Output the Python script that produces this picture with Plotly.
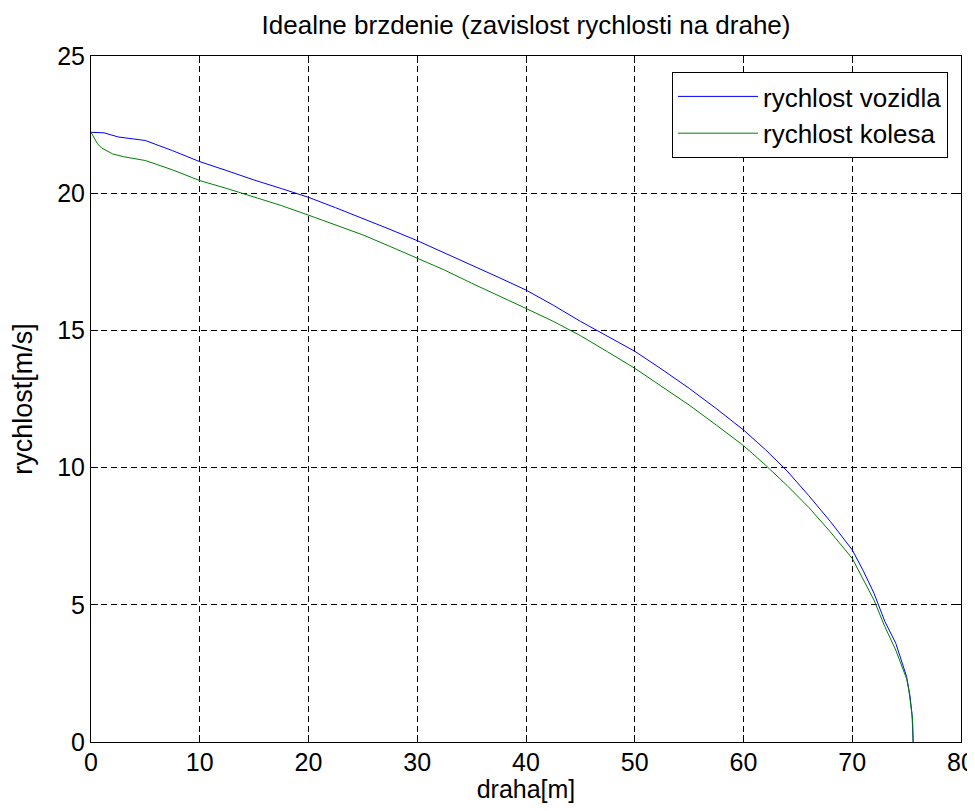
import plotly.graph_objects as go

# distance [m] and speed [m/s]
draha_vozidlo = [0, 1.2, 2.5, 5, 7.5, 10, 12.5, 15, 17.5, 20, 22.5, 25, 27.5, 30,
                 32.5, 35, 37.5, 40, 42.5, 45, 47.5, 50, 52.5, 55, 57.5, 60, 62,
                 64, 66, 68, 70, 71, 72, 73, 74, 74.5, 75, 75.3, 75.5, 75.6]
rychlost_vozidla = [22.22, 22.2, 22.05, 21.92, 21.55, 21.15, 20.82, 20.48, 20.17,
                    19.85, 19.47, 19.08, 18.68, 18.27, 17.83, 17.38, 16.93, 16.47,
                    15.92, 15.33, 14.8, 14.24, 13.58, 12.89, 12.15, 11.37, 10.66,
                    9.88, 8.98, 8.03, 7.0, 6.25, 5.42, 4.39, 3.6, 3.0, 2.38, 1.7,
                    1.0, 0.0]

draha_koleso = [0, 0.3, 0.6, 1, 1.5, 2, 3, 5, 7.5, 10, 12.5, 15, 17.5, 20, 22.5,
                25, 27.5, 30, 32.5, 35, 37.5, 40, 42.5, 45, 47.5, 50, 52.5, 55,
                57.5, 60, 62, 64, 66, 68, 70, 71, 72, 73, 74, 75, 75.2, 75.4,
                75.55, 75.6]
rychlost_kolesa = [22.22, 22.0, 21.8, 21.64, 21.52, 21.43, 21.33, 21.19, 20.85,
                   20.46, 20.17, 19.87, 19.55, 19.2, 18.85, 18.48, 18.06, 17.63,
                   17.2, 16.72, 16.27, 15.8, 15.33, 14.81, 14.22, 13.62, 12.95,
                   12.28, 11.55, 10.8, 10.1, 9.35, 8.55, 7.65, 6.69, 5.95, 5.17,
                   4.2, 3.35, 2.3, 1.9, 1.29, 0.8, 0.0]

x_ticks = [0, 10, 20, 30, 40, 50, 60, 70, 80]
y_ticks = [0, 5, 10, 15, 20, 25]

FONT = "Liberation Sans"

fig = go.Figure()
fig.add_trace(go.Scatter(x=draha_vozidlo, y=rychlost_vozidla, mode="lines",
                         name="rychlost vozidla",
                         line=dict(color="rgb(0,0,255)", width=1)))
fig.add_trace(go.Scatter(x=draha_koleso, y=rychlost_kolesa, mode="lines",
                         name="rychlost kolesa",
                         line=dict(color="rgb(0,128,0)", width=1)))

axis_common = dict(
    showline=True, linecolor="black", linewidth=1, mirror="ticks",
    ticks="inside", ticklen=7, tickcolor="black", tickwidth=1,
    showgrid=True, gridcolor="black", gridwidth=1, griddash="6px,4px",
    zeroline=False, automargin=False,
    tickfont=dict(family=FONT, size=25, color="black"),
)

# the page body adds an 8px margin at the top/left, so the figure is offset
fig.update_layout(
    width=967, height=795,
    margin=dict(l=83, r=14, t=48, b=61),
    paper_bgcolor="white", plot_bgcolor="white",
    title=dict(text="Idealne brzdenie (zavislost rychlosti na drahe)",
               font=dict(family=FONT, size=26, color="black"),
               xref="paper", x=0.5, xanchor="center",
               yref="container", y=1 - 17 / 795, yanchor="middle"),
    xaxis=dict(range=[0, 80], tickvals=x_ticks, ticklabelstandoff=-2,
               title=dict(text="draha[m]", font=dict(family=FONT, size=25, color="black"),
                          standoff=2),
               **axis_common),
    yaxis=dict(range=[0, 25], tickvals=y_ticks, ticklabelstandoff=0,
               title=dict(text="rychlost[m/s]", font=dict(family=FONT, size=27, color="black"),
                          standoff=18),
               **axis_common),
    legend=dict(x=(940 - 83) / 870, xanchor="right", y=(734 - 64) / 686, yanchor="top",
                bgcolor="white", bordercolor="black", borderwidth=1,
                font=dict(family=FONT, size=26, color="black"),
                itemwidth=80, tracegroupgap=0),
    showlegend=True,
)

fig.write_html("out.html")
